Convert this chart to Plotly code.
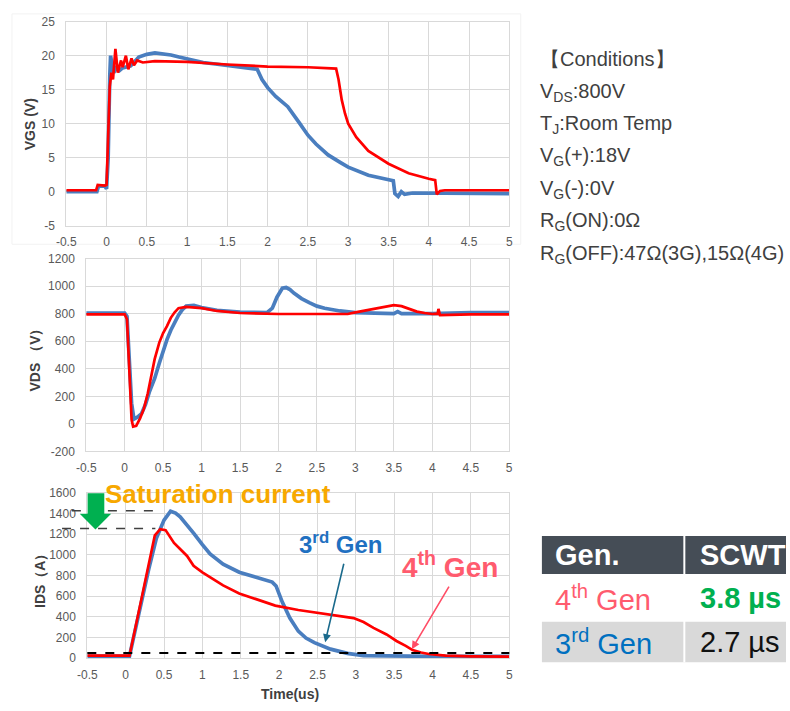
import plotly.graph_objects as go

# ---------------- data ----------------
x_ticks = [-0.5, 0, 0.5, 1, 1.5, 2, 2.5, 3, 3.5, 4, 4.5, 5]
x_tick_text = ["-0.5", "0", "0.5", "1", "1.5", "2", "2.5", "3", "3.5", "4", "4.5", "5"]
vgs_ticks = [-5, 0, 5, 10, 15, 20, 25]
vds_ticks = [-200, 0, 200, 400, 600, 800, 1000, 1200]
ids_ticks = [0, 200, 400, 600, 800, 1000, 1200, 1400, 1600]

# VGS (V)
t_vgs_3g = [-0.5, -0.12, -0.1, -0.02, 0.0, 0.02, 0.04, 0.05, 0.07, 0.09, 0.12, 0.16, 0.2, 0.3, 0.4,
            0.5, 0.6, 0.7, 0.8, 0.9, 1.0, 1.2, 1.4, 1.6, 1.8, 1.87, 1.93, 2.0, 2.1, 2.25, 2.4, 2.5,
            2.6, 2.75, 2.9, 3.0, 3.25, 3.5, 3.56, 3.58, 3.62, 3.66, 3.7, 3.8, 4.0, 4.5, 5.0]
vgs_3g = [0.0, 0.0, 0.8, 0.8, 0.4, 5, 17, 20, 18.5, 17.5, 18.2, 17.8, 18.2, 18.5, 19.8,
          20.2, 20.4, 20.3, 20.1, 19.8, 19.5, 19.0, 18.7, 18.4, 18.2, 18.0, 16.5, 15.3, 14.0, 12.5, 10.0, 8.3,
          7.0, 5.4, 4.3, 3.6, 2.4, 1.7, 1.6, -0.3, -0.7, 0.0, -0.4, -0.2, -0.2, -0.3, -0.3]
t_vgs_4g = [-0.5, -0.13, -0.11, -0.02, 0.0, 0.02, 0.04, 0.06, 0.08, 0.11, 0.14, 0.18, 0.2, 0.24, 0.27,
            0.31, 0.34, 0.38, 0.45, 0.6, 1.0, 1.5, 2.0, 2.5, 2.85, 2.88, 2.92, 2.96, 3.0, 3.1, 3.25,
            3.5, 3.75, 4.0, 4.08, 4.1, 4.14, 4.2, 5.0]
vgs_4g = [0.2, 0.2, 1.0, 0.9, 1.0, 8, 15.5, 17.5, 16.5, 21, 17.5, 19.3, 18.3, 20.0, 18.0,
          19.6, 18.6, 19.3, 19.0, 19.2, 19.1, 18.7, 18.4, 18.3, 18.1, 16.5, 13.5, 11.5, 10.0, 8.0, 6.0,
          4.1, 2.7, 1.9, 1.7, -0.4, 0.1, 0.2, 0.2]

# VDS (V)
t_vds_3g = [-0.5, 0.0, 0.03, 0.06, 0.09, 0.12, 0.17, 0.22, 0.27, 0.32, 0.39, 0.45, 0.5, 0.55, 0.6,
            0.65, 0.7, 0.75, 0.8, 0.9, 1.0, 1.2, 1.5, 1.85, 1.92, 1.98, 2.05, 2.1, 2.15, 2.2, 2.3,
            2.4, 2.5, 2.6, 2.8, 3.0, 3.5, 3.55, 3.6, 4.0, 4.5, 5.0]
vds_3g = [805, 805, 780, 500, 150, 35, 50, 75, 140, 230, 330, 440, 530, 612, 680,
          740, 790, 830, 855, 860, 845, 825, 812, 808, 840, 920, 985, 990, 975, 950, 910,
          880, 855, 840, 820, 808, 800, 815, 800, 800, 808, 808]
t_vds_4g = [-0.5, 0.0, 0.03, 0.06, 0.09, 0.11, 0.15, 0.2, 0.25, 0.3, 0.35, 0.39, 0.45, 0.5, 0.55,
            0.6, 0.65, 0.7, 0.8, 1.0, 1.2, 1.5, 2.0, 2.5, 2.9, 3.0, 3.2, 3.4, 3.5, 3.6, 3.7,
            3.8, 3.9, 4.0, 4.07, 4.08, 4.1, 4.5, 5.0]
vds_4g = [795, 795, 760, 400, 30, -20, -15, 40, 110, 220, 350, 470, 590, 660, 710,
          770, 810, 840, 850, 840, 820, 805, 798, 795, 798, 810, 830, 855, 862, 855, 835,
          815, 805, 798, 800, 835, 790, 795, 795]

# IDS (A)
t_ids_3g = [-0.5, 0.05, 0.1, 0.2, 0.3, 0.4, 0.5, 0.585, 0.65, 0.71, 0.8, 0.885, 1.0, 1.1, 1.27,
            1.48, 1.7, 1.82, 1.91, 1.96, 2.04, 2.14, 2.25, 2.35, 2.46, 2.67, 2.89, 3.1, 3.5, 4.0, 5.0]
ids_3g = [20, 20, 190, 530, 860, 1160, 1337, 1423, 1405, 1369, 1290, 1211, 1100, 1010, 911,
          832, 784, 761, 737, 700, 546, 389, 262, 195, 151, 88, 47, 25, 20, 18, 18]
t_ids_4g = [-0.5, 0.05, 0.1, 0.2, 0.3, 0.38, 0.45, 0.52, 0.63, 0.72, 0.8, 0.885, 1.0, 1.27, 1.48,
            1.7, 1.95, 2.25, 2.67, 2.97, 3.1, 3.23, 3.4, 3.53, 3.65, 3.74, 3.85, 3.95, 4.17, 4.5, 5.0]
ids_4g = [25, 25, 200, 560, 900, 1190, 1250, 1240, 1116, 1050, 990, 895, 832, 705, 626,
          572, 509, 467, 420, 389, 350, 294, 230, 167, 120, 79, 55, 41, 25, 18, 15]

sat_levels = [1428, 1255]
threshold_level = 50

conditions = ["【Conditions】", "V<sub>DS</sub>:800V", "T<sub>J</sub>:Room Temp", "V<sub>G</sub>(+):18V",
              "V<sub>G</sub>(-):0V", "R<sub>G</sub>(ON):0Ω", "R<sub>G</sub>(OFF):47Ω(3G),15Ω(4G)"]
table_header = ["Gen.", "SCWT"]
table_gens = ["4<sup>th</sup> Gen", "3<sup>rd</sup> Gen"]
table_scwt = ["3.8 µs", "2.7 µs"]

# ---------------- styling ----------------
W, H = 790, 711
BLUE = "#4a7ebf"
RED = "#ff0000"
GRID = "#d9d9d9"
TICKC = "#595959"
FONT = "Liberation Sans"


def px(x):
    return x / W


def py(y):
    return 1 - y / H


fig = go.Figure()
fig.add_trace(go.Scatter(x=t_vgs_3g, y=vgs_3g, mode="lines", line=dict(color=BLUE, width=3.7), xaxis="x", yaxis="y"))
fig.add_trace(go.Scatter(x=t_vgs_4g, y=vgs_4g, mode="lines", line=dict(color=RED, width=2.7), xaxis="x", yaxis="y"))
fig.add_trace(go.Scatter(x=t_vds_3g, y=vds_3g, mode="lines", line=dict(color=BLUE, width=3.7), xaxis="x2", yaxis="y2"))
fig.add_trace(go.Scatter(x=t_vds_4g, y=vds_4g, mode="lines", line=dict(color=RED, width=2.7), xaxis="x2", yaxis="y2"))
fig.add_trace(go.Scatter(x=t_ids_3g, y=ids_3g, mode="lines", line=dict(color=BLUE, width=3.7), xaxis="x3", yaxis="y3"))
fig.add_trace(go.Scatter(x=t_ids_4g, y=ids_4g, mode="lines", line=dict(color=RED, width=2.7), xaxis="x3", yaxis="y3"))


def xax(domain, anchor):
    return dict(domain=domain, anchor=anchor, range=[-0.5, 5], tickvals=x_ticks, ticktext=x_tick_text,
                showgrid=True, gridcolor=GRID, gridwidth=1, zeroline=False, showline=True, mirror=True,
                linecolor=GRID, linewidth=1, ticks="outside", ticklen=5, tickcolor="rgba(0,0,0,0)",
                tickfont=dict(family=FONT, size=12, color=TICKC), fixedrange=True)


def yax(domain, anchor, rng, ticks):
    return dict(domain=domain, anchor=anchor, range=rng, tickvals=ticks, ticktext=[str(t) for t in ticks],
                showgrid=True, gridcolor=GRID, gridwidth=1, zeroline=False, showline=True, mirror=True,
                linecolor=GRID, linewidth=1, ticks="outside", ticklen=8, tickcolor="rgba(0,0,0,0)",
                tickfont=dict(family=FONT, size=12, color=TICKC), fixedrange=True)


fig.update_layout(
    width=W, height=H, margin=dict(l=0, r=0, t=0, b=0), showlegend=False,
    paper_bgcolor="white", plot_bgcolor="white",
    xaxis=xax([px(57.3), px(508.3)], "y"),
    yaxis=yax([py(223), py(15)], "x", [-5, 25], vgs_ticks),
    xaxis2=xax([px(77.6), px(508.2)], "y2"),
    yaxis2=yax([py(453.3), py(256.7)], "x2", [-200, 1200], vds_ticks),
    xaxis3=xax([px(78.7), px(508.3)], "y3"),
    yaxis3=yax([py(664.3), py(495.7)], "x3", [0, 1600], ids_ticks),
)

shapes = []
annotations = []

# faint chart frame of the top chart
shapes.append(dict(type="rect", xref="paper", yref="paper", x0=px(2), x1=px(520), y0=py(242), y1=py(7),
                   line=dict(color="#f2f2f2", width=1), layer="below"))

# threshold dashed line
shapes.append(dict(type="line", xref="x3 domain", yref="y3", x0=0, x1=1, y0=threshold_level, y1=threshold_level,
                   line=dict(color="black", width=2, dash="dash")))
# saturation-current dashed lines
shapes.append(dict(type="line", xref="paper", yref="y3", x0=px(63), x1=px(147), y0=sat_levels[0], y1=sat_levels[0],
                   line=dict(color="#404040", width=1.5, dash="dash")))
shapes.append(dict(type="line", xref="paper", yref="y3", x0=px(53), x1=px(148), y0=sat_levels[1], y1=sat_levels[1],
                   line=dict(color="#404040", width=1.5, dash="dash")))
# green block arrow
arrow_pts = [(79, 496), (96, 496), (96, 517), (103, 517), (87, 533), (71, 517), (79, 517)]
path = "M " + " L ".join(f"{px(a):.5f},{py(b):.5f}" for a, b in arrow_pts) + " Z"
shapes.append(dict(type="path", xref="paper", yref="paper", path=path, fillcolor="#00b050", line=dict(width=0)))

# axis titles
title_font = dict(family=FONT, size=14, color="#404040")
annotations.append(dict(xref="paper", yref="paper", x=px(20), y=py(120), text="<b>VGS (V)</b>", textangle=-90,
                        showarrow=False, font=title_font, xanchor="center", yanchor="middle"))
annotations.append(dict(xref="paper", yref="paper", x=px(25), y=py(357), text="<b>VDS （V）</b>", textangle=-90,
                        showarrow=False, font=title_font, xanchor="center", yanchor="middle"))
annotations.append(dict(xref="paper", yref="paper", x=px(30), y=py(582), text="<b>IDS（A）</b>", textangle=-90,
                        showarrow=False, font=title_font, xanchor="center", yanchor="middle"))
annotations.append(dict(xref="paper", yref="paper", x=px(285), y=py(701), text="<b>Time(us)</b>",
                        showarrow=False, font=dict(family="Liberation Sans Narrow, Liberation Sans", size=14,
                                                   color="#404040"),
                        xanchor="center", yanchor="middle"))

# Saturation current label
annotations.append(dict(xref="paper", yref="paper", x=px(95), y=py(497), text="<b>Saturation current</b>",
                        showarrow=False, font=dict(family=FONT, size=26, color="#f7a800"),
                        xanchor="left", yanchor="middle"))
# 3rd / 4th gen labels
annotations.append(dict(xref="paper", yref="paper", x=px(292), y=py(547), text="<b>3<sup>rd</sup> Gen</b>",
                        showarrow=False, font=dict(family=FONT, size=24, color="#1f70c1"),
                        xanchor="left", yanchor="middle"))
annotations.append(dict(xref="paper", yref="paper", x=px(397), y=py(569), text="<b>4<sup>th</sup> Gen</b>",
                        showarrow=False, font=dict(family=FONT, size=28, color="#ff5b6e"),
                        xanchor="left", yanchor="middle"))
# arrows
annotations.append(dict(xref="x3", yref="y3", x=2.60, y=155, ax=19, ay=-80, text="", showarrow=True,
                        arrowhead=2, arrowsize=1, arrowwidth=1.6, arrowcolor="#1a6a8c"))
annotations.append(dict(xref="x3", yref="y3", x=3.73, y=88, ax=38, ay=-64, text="", showarrow=True,
                        arrowhead=2, arrowsize=1, arrowwidth=1.6, arrowcolor="#ff4d66"))

# conditions text
cond_y = [53, 87, 120, 153, 186, 219, 252]
for txt, yy in zip(conditions, cond_y):
    annotations.append(dict(xref="paper", yref="paper", x=px(538), y=py(yy), text=txt, showarrow=False,
                            font=dict(family=FONT, size=20, color="#404040"), xanchor="left", yanchor="middle"))

# table
shapes.append(dict(type="rect", xref="paper", yref="paper", x0=px(541.5), x1=px(790), y0=py(578.5), y1=py(539.5),
                   fillcolor="#454d56", line=dict(width=0)))
shapes.append(dict(type="rect", xref="paper", yref="paper", x0=px(541.5), x1=px(790), y0=py(668.5), y1=py(627),
                   fillcolor="#d9d9d9", line=dict(width=0)))
shapes.append(dict(type="line", xref="paper", yref="paper", x0=px(686.5), x1=px(686.5), y0=py(668.5), y1=py(539.5),
                   line=dict(color="white", width=2)))
tab_font = "Liberation Sans"
annotations.append(dict(xref="paper", yref="paper", x=px(553), y=py(559), text="<b>" + table_header[0] + "</b>",
                        showarrow=False, font=dict(family=tab_font, size=29, color="white"),
                        xanchor="left", yanchor="middle"))
annotations.append(dict(xref="paper", yref="paper", x=px(700), y=py(559), text="<b>" + table_header[1] + "</b>",
                        showarrow=False, font=dict(family=tab_font, size=29, color="white"),
                        xanchor="left", yanchor="middle"))
row_y = [603, 648]
gen_colors = ["#ff5b6e", "#0070c0"]
scwt_colors = ["#00b050", "#111111"]
scwt_bold = [True, False]
for g, s, yy, gc, sc, b in zip(table_gens, table_scwt, row_y, gen_colors, scwt_colors, scwt_bold):
    annotations.append(dict(xref="paper", yref="paper", x=px(553), y=py(yy), text=g, showarrow=False,
                            font=dict(family=tab_font, size=29, color=gc), xanchor="left", yanchor="middle"))
    annotations.append(dict(xref="paper", yref="paper", x=px(700), y=py(yy), text=("<b>" + s + "</b>") if b else s,
                            showarrow=False, font=dict(family=tab_font, size=29, color=sc),
                            xanchor="left", yanchor="middle"))

fig.update_layout(shapes=shapes, annotations=annotations)
fig.write_html("out.html")
